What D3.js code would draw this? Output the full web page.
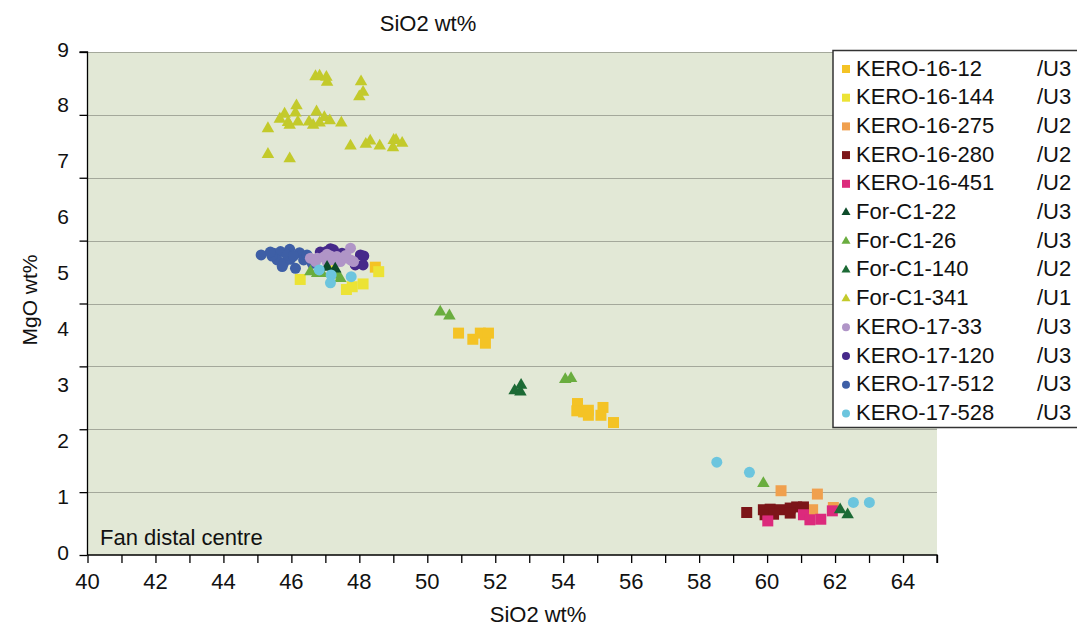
<!DOCTYPE html>
<html><head><meta charset="utf-8">
<script src="https://cdn.jsdelivr.net/npm/d3@7/dist/d3.min.js"></script>
<style>
html,body{margin:0;padding:0;background:#fff;}
svg text{font-family:"Liberation Sans",Arial,sans-serif;fill:#111;}
</style></head>
<body><svg id="c" width="1077" height="630"></svg>
<script>
// ---- data ----
const seriesNames = ["KERO-16-12","KERO-16-144","KERO-16-275","KERO-16-280","KERO-16-451","For-C1-22","For-C1-26","For-C1-140","For-C1-341","KERO-17-33","KERO-17-120","KERO-17-512","KERO-17-528"];
const seriesUnits = ["/U3","/U3","/U2","/U2","/U2","/U3","/U3","/U2","/U1","/U3","/U3","/U3","/U3"];
const seriesShapes = ["square","square","square","square","square","triangle","triangle","triangle","triangle","circle","circle","circle","circle"];
const seriesColors = ["#F4C325","#ECE335","#F0A04E","#7C1518","#DC2A7C","#0D4B2A","#6AAD3F","#1C6A35","#C3CA2B","#B095C7","#46298A","#3E5FA6","#6CC5DE"];
// order in which the series are painted (later on top)
const drawOrder = [0,1,2,3,4,11,10,9,8,6,5,7,12];

const kero16_12 = [[48.47,5.15],[50.92,3.97],[51.34,3.86],[51.56,3.97],[51.80,3.97],[51.71,3.79],[54.42,2.71],[54.40,2.58],[54.60,2.56],[54.74,2.59],[54.74,2.50],[55.17,2.64],[55.11,2.50],[55.48,2.37]];
const kero16_144 = [[46.26,4.93],[47.62,4.75],[47.79,4.80],[48.11,4.85],[48.57,5.07],[47.20,5.20]];
const kero16_275 = [[60.41,1.15],[61.48,1.09],[61.34,0.81],[61.95,0.85]];
const kero16_280 = [[59.40,0.76],[59.89,0.81],[60.09,0.82],[60.38,0.81],[60.68,0.84],[60.87,0.86],[61.07,0.86],[59.94,0.72],[60.68,0.75],[60.19,0.73]];
const kero16_451 = [[60.02,0.61],[61.07,0.72],[61.26,0.63],[61.58,0.64],[61.92,0.79]];
const forC1_22 = [[47.05,5.15],[47.29,5.12]];
const forC1_26 = [[46.56,5.07],[46.76,5.04],[46.90,5.04],[47.34,5.01],[47.44,4.95],[50.38,4.35],[50.65,4.28],[54.06,3.14],[54.23,3.16],[59.89,1.28]];
const forC1_140 = [[52.57,2.94],[52.76,3.04],[52.74,2.92],[62.15,0.81],[62.37,0.72]];
const forC1_341 = [[46.71,8.56],[46.83,8.57],[47.03,8.55],[47.05,8.46],[48.05,8.47],[48.11,8.28],[48.00,8.20],[46.15,8.04],[46.12,7.91],[45.80,7.89],[45.66,7.80],[45.90,7.74],[45.95,7.69],[46.19,7.75],[45.31,7.63],[46.74,7.93],[46.52,7.75],[46.64,7.69],[46.83,7.73],[46.97,7.83],[47.13,7.77],[47.47,7.73],[47.74,7.32],[48.19,7.35],[48.32,7.41],[48.60,7.32],[49.01,7.42],[49.08,7.42],[48.99,7.29],[49.26,7.37],[45.31,7.17],[45.95,7.09]];
const kero17_33 = [[46.56,5.31],[46.76,5.31],[46.95,5.33],[47.15,5.35],[47.34,5.34],[47.54,5.31],[47.74,5.49],[47.74,5.28],[47.83,5.25],[47.05,5.25],[47.44,5.25],[47.24,5.28],[46.71,5.25],[47.05,5.38],[47.60,5.36]];
const kero17_120 = [[46.85,5.42],[47.15,5.48],[47.24,5.46],[47.49,5.40],[48.03,5.37],[48.13,5.35],[48.11,5.19],[47.88,5.19],[47.03,5.43]];
const kero17_512 = [[45.11,5.37],[45.48,5.40],[45.68,5.43],[45.95,5.47],[46.24,5.41],[45.58,5.28],[45.77,5.22],[45.97,5.29],[46.12,5.13],[45.73,5.16],[46.36,5.28],[45.87,5.37],[46.46,5.37],[46.61,5.22],[45.43,5.35],[46.06,5.35],[45.38,5.42]];
const kero17_528 = [[46.82,5.10],[47.17,5.01],[47.15,4.87],[47.76,4.98],[58.52,1.66],[59.48,1.48],[62.54,0.94],[63.01,0.94]];
const seriesValues = [kero16_12,kero16_144,kero16_275,kero16_280,kero16_451,forC1_22,forC1_26,forC1_140,forC1_341,kero17_33,kero17_120,kero17_512,kero17_528];

const xTicks = [40,41,42,43,44,45,46,47,48,49,50,51,52,53,54,55,56,57,58,59,60,61,62,63,64,65];
const xTickLabels = [40,42,44,46,48,50,52,54,56,58,60,62,64];
const yTickLabels = [0,1,2,3,4,5,6,7,8,9];
const yGridValues = [0,1.125,2.25,3.375,4.5,5.625,6.75,7.875,9];
const xTitle = "SiO2 wt%";
const yTitle = "MgO wt%";
const topTitle = "SiO2 wt%";
const annotation = "Fan distal centre";

// ---- layout ----
const svg = d3.select("#c");
const L = 87.5, R = 937, T = 52, B = 555;
const x = d3.scaleLinear().domain([40,65]).range([L,R]);
const y = d3.scaleLinear().domain([0,9]).range([B,T]);

svg.append("rect").attr("x",L).attr("y",T).attr("width",R-L).attr("height",B-T).attr("fill","#E2E8D6");

// gridlines
svg.append("g").selectAll("line").data(yGridValues.slice(1)).join("line")
  .attr("x1",L).attr("x2",R).attr("y1",d=>Math.round(y(d))+0.5).attr("y2",d=>Math.round(y(d))+0.5)
  .attr("stroke","#A4A89B").attr("stroke-width",1.2);

// y axis ticks (on gridline positions)
const yAxisG = svg.append("g").attr("transform",`translate(${L},0)`)
  .call(d3.axisLeft(y).tickValues(yGridValues).tickSize(8).tickFormat(""));
yAxisG.selectAll("path,line").attr("stroke","#000").attr("stroke-width",1.3);
yAxisG.select(".domain").attr("d",`M-8,${y(9)}H0V${y(0)}`);

// y labels
svg.append("g").selectAll("text").data(yTickLabels).join("text")
  .attr("x",69).attr("y",d=>y(d)-3).attr("text-anchor","end").attr("dominant-baseline","central")
  .attr("font-size",21).text(d=>d);

// x axis
const xAxisG = svg.append("g").attr("transform",`translate(0,${B})`)
  .call(d3.axisBottom(x).tickValues(xTicks).tickSize(8).tickFormat(""));
xAxisG.selectAll("path,line").attr("stroke","#000").attr("stroke-width",1.3);
xAxisG.select(".domain").attr("d",`M${L},0H${R}V8`);
svg.append("g").selectAll("text").data(xTickLabels).join("text")
  .attr("x",d=>x(d)).attr("y",589).attr("text-anchor","middle")
  .attr("font-size",22).text(d=>d);

// titles
svg.append("text").attr("x",428).attr("y",31).attr("text-anchor","middle").attr("font-size",22).text(topTitle);
svg.append("text").attr("x",538).attr("y",622).attr("text-anchor","middle").attr("font-size",22).text(xTitle);
svg.append("text").attr("transform","translate(37,300) rotate(-90)").attr("text-anchor","middle").attr("font-size",21).text(yTitle);
svg.append("text").attr("x",100).attr("y",545).attr("font-size",22).text(annotation);

// markers
function shapePath(shape, size){
  if(shape==="square") return d3.symbol(d3.symbolSquare, size*size)();
  if(shape==="circle") return d3.symbol(d3.symbolCircle, Math.PI*size*size/4)();
  return d3.symbol(d3.symbolTriangle, size*size*0.433)();
}
const pts = svg.append("g");
drawOrder.forEach(i=>{
  pts.append("g").selectAll("path").data(seriesValues[i]).join("path")
    .attr("d",shapePath(seriesShapes[i], seriesShapes[i]==="triangle"?12.5:11))
    .attr("transform",d=>`translate(${x(d[0])},${y(d[1])})`)
    .attr("fill",seriesColors[i]);
});

// legend
const lg = svg.append("g");
lg.append("rect").attr("x",833).attr("y",50.5).attr("width",260).attr("height",377)
  .attr("fill","#fff").attr("stroke","#333").attr("stroke-width",1.5);
const rows = lg.selectAll("g.row").data(seriesNames).join("g").attr("class","row")
  .attr("transform",(d,i)=>`translate(0,${68+i*28.7})`);
rows.append("path").attr("d",(d,i)=>shapePath(seriesShapes[i], seriesShapes[i]==="triangle"?9:8))
  .attr("transform","translate(846,1)").attr("fill",(d,i)=>seriesColors[i]);
rows.append("text").attr("x",856).attr("y",0).attr("dominant-baseline","central").attr("font-size",22).text(d=>d);
rows.append("text").attr("x",1037).attr("y",0).attr("dominant-baseline","central").attr("font-size",22).text((d,i)=>seriesUnits[i]);
</script></body></html>
